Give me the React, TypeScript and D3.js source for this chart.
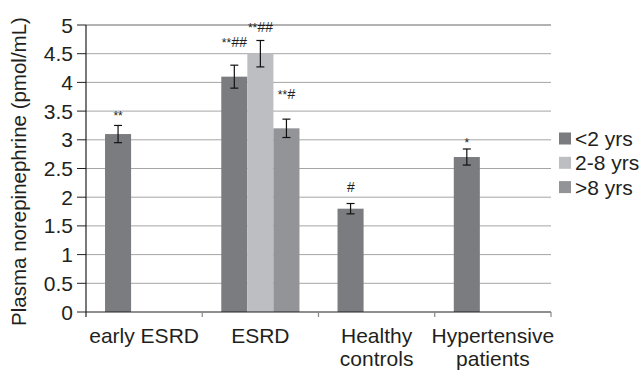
import React from "react"
import { scaleBand, scaleLinear, range } from "d3"

const categories = ["early ESRD", "ESRD", "Healthy controls", "Hypertensive patients"]
const categoryLines = [["early ESRD"], ["ESRD"], ["Healthy", "controls"], ["Hypertensive", "patients"]]
const seriesNames = ["<2 yrs", "2-8 yrs", ">8 yrs"]
const seriesColors = ["#7b7c80", "#bdbec2", "#939498"]

/** values per series, null where a category has no bar */
const under2 = [3.1, 4.1, 1.8, 2.7]
const from2to8 = [null, 4.5, null, null]
const over8 = [null, 3.2, null, null]

const under2Err = [0.15, 0.2, 0.09, 0.14]
const from2to8Err = [null, 0.23, null, null]
const over8Err = [null, 0.16, null, null]

/** significance marks and the level (in axis units) where they sit */
const under2Marks = ["**", "**##", "#", "*"]
const from2to8Marks = [null, "**##", null, null]
const over8Marks = [null, "**#", null, null]
const under2MarkAt = [3.34, 4.62, 2.09, 2.87]
const from2to8MarkAt = [null, 4.88, null, null]
const over8MarkAt = [null, 3.71, null, null]

const yTicks = range(0, 5.01, 0.5)

const series = [
	{ name: seriesNames[0], values: under2, errs: under2Err, marks: under2Marks, markAt: under2MarkAt },
	{ name: seriesNames[1], values: from2to8, errs: from2to8Err, marks: from2to8Marks, markAt: from2to8MarkAt },
	{ name: seriesNames[2], values: over8, errs: over8Err, marks: over8Marks, markAt: over8MarkAt },
]

/** stars small, hashes a bit larger, like the original */
const Mark = ({ text }: { text: string }) => {
	const stars = text.replace(/#/g, "")
	const hashes = text.replace(/\*/g, "")
	return (
		<>
			{stars ? <tspan fontSize={12}>{stars}</tspan> : null}
			{hashes ? <tspan fontSize={14} fontStyle="italic">{hashes}</tspan> : null}
		</>
	)
}

export default function App() {
	const width = 641
	const height = 372

	/** plot bounds */
	const left = 86
	const right = 551
	const top = 25
	const bottom = 312

	const font = "'Liberation Sans', Arial, sans-serif"
	const textColor = "#231f20"

	const xScale = scaleBand<string>().domain(categories).range([left, right]).paddingInner(0).paddingOuter(0)
	const inner = scaleBand<string>().domain(seriesNames).range([0, xScale.bandwidth()]).paddingInner(0).paddingOuter(0.73)
	const yScale = scaleLinear().domain([0, 5]).range([bottom, top])

	const boundaries = categories.map(c => xScale(c) as number).concat([right])

	return (
		<svg width={width} height={height} style={{ position: "absolute", left: 0, top: 0, background: "#fff" }} fontFamily={font}>
			{/* grid lines */}
			{yTicks.filter(t => t > 0).map(t => (
				<line key={t} x1={left} x2={right} y1={yScale(t)} y2={yScale(t)} stroke={t === 5 ? "#666" : "#a5a5a5"} strokeWidth={1} />
			))}

			{/* y axis */}
			<line x1={left} x2={left} y1={top} y2={bottom} stroke="#231f20" strokeWidth={1.2} />
			{yTicks.map(t => (
				<g key={t}>
					<line x1={left - 9} x2={left} y1={yScale(t)} y2={yScale(t)} stroke="#231f20" />
					<text x={left - 13} y={yScale(t)} dy="0.36em" textAnchor="end" fontSize={21} fill={textColor}>
						{String(t)}
					</text>
				</g>
			))}
			<text
				transform={`translate(26, ${(top + bottom) / 2 + 3}) rotate(-90)`}
				textAnchor="middle"
				fontSize={20.5}
				fill={textColor}
			>
				Plasma norepinephrine (pmol/mL)
			</text>

			{/* bars */}
			{series.map((s, si) =>
				s.values.map((v, ci) => {
					if (v === null) return null
					const x = (xScale(categories[ci]) as number) + (inner(s.name) as number)
					const w = inner.bandwidth()
					const cx = x + w / 2
					const e = s.errs[ci] as number
					const mark = s.marks[ci]
					return (
						<g key={`${si}-${ci}`}>
							<rect x={x} y={yScale(v)} width={w} height={bottom - yScale(v)} fill={seriesColors[si]} />
							<line x1={cx} x2={cx} y1={yScale(v + e)} y2={yScale(v - e)} stroke="#111" strokeWidth={1.2} />
							<line x1={cx - 4} x2={cx + 4} y1={yScale(v + e)} y2={yScale(v + e)} stroke="#111" strokeWidth={1.2} />
							<line x1={cx - 4} x2={cx + 4} y1={yScale(v - e)} y2={yScale(v - e)} stroke="#111" strokeWidth={1.2} />
							{mark ? (
								<text x={cx} y={yScale(s.markAt[ci] as number)} textAnchor="middle" fill={textColor}>
									<Mark text={mark} />
								</text>
							) : null}
						</g>
					)
				})
			)}

			{/* x axis */}
			<line x1={left} x2={right} y1={bottom} y2={bottom} stroke="#231f20" strokeWidth={1.2} />
			{boundaries.map((b, i) => (
				<line key={i} x1={b} x2={b} y1={bottom} y2={bottom + 5} stroke={i === 0 ? "#231f20" : "#888"} strokeWidth={1.2} />
			))}
			{categories.map((c, ci) => (
				<text key={c} x={(xScale(c) as number) + xScale.bandwidth() / 2} y={343} textAnchor="middle" fontSize={21} fill={textColor}>
					{categoryLines[ci].map((ln, li) => (
						<tspan key={li} x={(xScale(c) as number) + xScale.bandwidth() / 2} dy={li === 0 ? 0 : 23}>
							{ln}
						</tspan>
					))}
				</text>
			))}

			{/* legend */}
			{seriesNames.map((n, i) => (
				<g key={n} transform={`translate(559, ${138.5 + i * 24.3})`}>
					<rect x={0} y={-6} width={12} height={12} fill={seriesColors[i]} />
					<text x={16} y={0} dy="0.36em" fontSize={21} fill={textColor}>
						{n}
					</text>
				</g>
			))}
		</svg>
	)
}
